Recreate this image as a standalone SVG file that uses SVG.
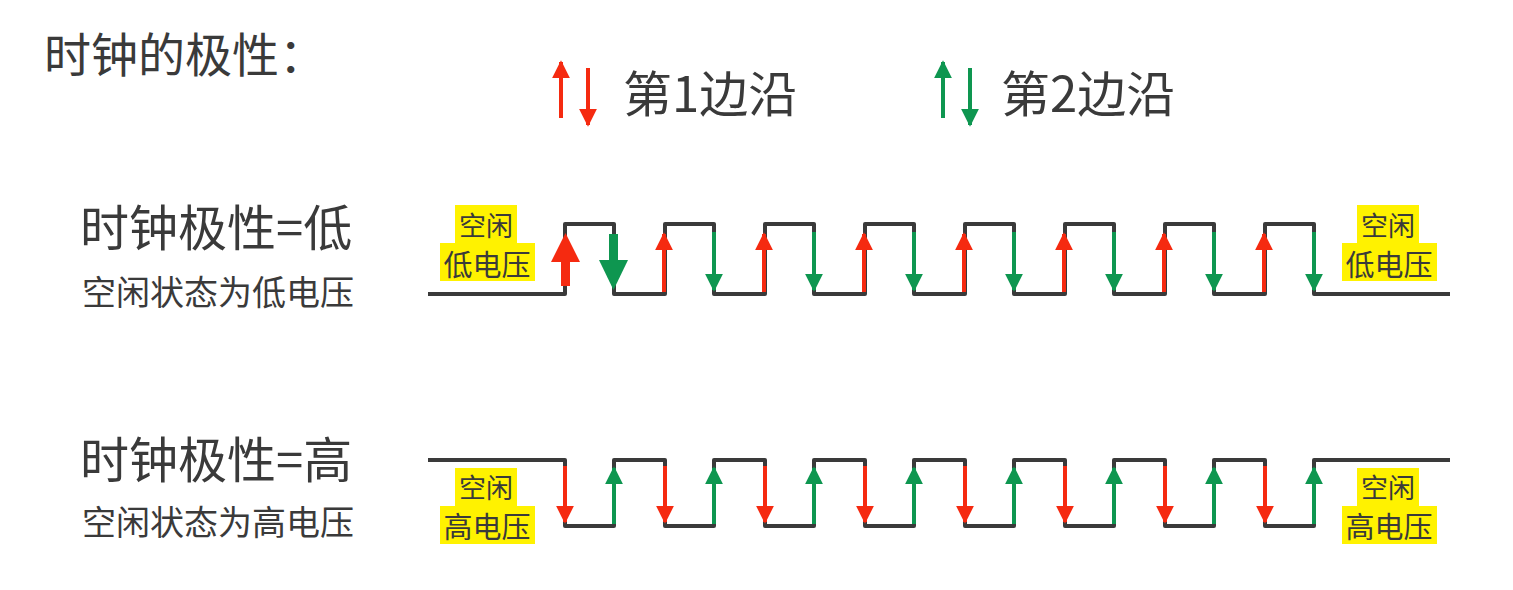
<svg xmlns="http://www.w3.org/2000/svg" width="1513" height="590" viewBox="0 0 1513 590">
<defs>
<style>
text{font-family:"Noto Sans CJK SC","Liberation Sans",sans-serif;fill:#3a3a3a}
.w{fill:none;stroke:#3a3a3a;stroke-width:4;stroke-linejoin:round}
.r{stroke:#f52a10;stroke-width:4}
.g{stroke:#0e9650;stroke-width:4}
.hl{fill:#fff200}
</style>
<marker id="mr" viewBox="0 0 10 10" refX="9" refY="5" markerWidth="4.5" markerHeight="4.5" markerUnits="strokeWidth" orient="auto"><path d="M0,0 L10,5 L0,10Z" fill="#f52a10"/></marker>
<marker id="mg" viewBox="0 0 10 10" refX="9" refY="5" markerWidth="4.5" markerHeight="4.5" markerUnits="strokeWidth" orient="auto"><path d="M0,0 L10,5 L0,10Z" fill="#0e9650"/></marker>
</defs>
<rect width="1513" height="590" fill="#fff"/>
<text x="44" y="72" font-size="47">时钟的极性：</text>
<g id="legend">
<line class="r" x1="561" y1="118" x2="561" y2="62" marker-end="url(#mr)"/>
<line class="r" x1="588" y1="68" x2="588" y2="125" marker-end="url(#mr)"/>
<text x="623" y="112" font-size="49">第1边沿</text>
<line class="g" x1="943" y1="118" x2="943" y2="62" marker-end="url(#mg)"/>
<line class="g" x1="970" y1="68" x2="970" y2="125" marker-end="url(#mg)"/>
<text x="1001" y="112" font-size="49">第2边沿</text>
</g>
<g id="label-low">
<text x="80" y="246" font-size="49">时钟极性=低</text>
<text x="82" y="305" font-size="34">空闲状态为低电压</text>
</g>
<g id="label-high">
<text x="80" y="478" font-size="49">时钟极性=高</text>
<text x="82" y="535" font-size="34">空闲状态为高电压</text>
</g>
<g id="wave-low">
<path class="w" d="M428,294 H565 V224 H614 V294 H665 V224 H714 V294 H765 V224 H814 V294 H865 V224 H914 V294 H965 V224 H1014 V294 H1065 V224 H1114 V294 H1165 V224 H1214 V294 H1265 V224 H1314 V294 H1450"/>
</g>
<g id="wave-high">
<path class="w" d="M428,460 H565 V526 H614 V460 H665 V526 H714 V460 H765 V526 H814 V460 H865 V526 H914 V460 H965 V526 H1014 V460 H1065 V526 H1114 V460 H1165 V526 H1214 V460 H1265 V526 H1314 V460 H1450"/>
</g>
<g id="connectors">
<rect x="561" y="260" width="9" height="26" fill="#f52a10"/>
<path d="M551,262 L565.5,233 L580,262Z" fill="#f52a10"/>
<rect x="609" y="234" width="9" height="28" fill="#0e9650"/>
<path d="M599,260 L613.5,290 L628,260Z" fill="#0e9650"/>
<g id="up-red">
<line class="r" x1="664" y1="292" x2="664" y2="234" marker-end="url(#mr)"/>
<line class="r" x1="764" y1="292" x2="764" y2="234" marker-end="url(#mr)"/>
<line class="r" x1="864" y1="292" x2="864" y2="234" marker-end="url(#mr)"/>
<line class="r" x1="964" y1="292" x2="964" y2="234" marker-end="url(#mr)"/>
<line class="r" x1="1064" y1="292" x2="1064" y2="234" marker-end="url(#mr)"/>
<line class="r" x1="1164" y1="292" x2="1164" y2="234" marker-end="url(#mr)"/>
<line class="r" x1="1264" y1="292" x2="1264" y2="234" marker-end="url(#mr)"/>
</g>
<g id="down-green">
<line class="g" x1="714" y1="232" x2="714" y2="290" marker-end="url(#mg)"/>
<line class="g" x1="814" y1="232" x2="814" y2="290" marker-end="url(#mg)"/>
<line class="g" x1="914" y1="232" x2="914" y2="290" marker-end="url(#mg)"/>
<line class="g" x1="1014" y1="232" x2="1014" y2="290" marker-end="url(#mg)"/>
<line class="g" x1="1114" y1="232" x2="1114" y2="290" marker-end="url(#mg)"/>
<line class="g" x1="1214" y1="232" x2="1214" y2="290" marker-end="url(#mg)"/>
<line class="g" x1="1314" y1="232" x2="1314" y2="290" marker-end="url(#mg)"/>
</g>
<g id="down-red">
<line class="r" x1="565" y1="466" x2="565" y2="522" marker-end="url(#mr)"/>
<line class="r" x1="665" y1="466" x2="665" y2="522" marker-end="url(#mr)"/>
<line class="r" x1="765" y1="466" x2="765" y2="522" marker-end="url(#mr)"/>
<line class="r" x1="865" y1="466" x2="865" y2="522" marker-end="url(#mr)"/>
<line class="r" x1="965" y1="466" x2="965" y2="522" marker-end="url(#mr)"/>
<line class="r" x1="1065" y1="466" x2="1065" y2="522" marker-end="url(#mr)"/>
<line class="r" x1="1165" y1="466" x2="1165" y2="522" marker-end="url(#mr)"/>
<line class="r" x1="1265" y1="466" x2="1265" y2="522" marker-end="url(#mr)"/>
</g>
<g id="up-green">
<line class="g" x1="614" y1="524" x2="614" y2="468" marker-end="url(#mg)"/>
<line class="g" x1="714" y1="524" x2="714" y2="468" marker-end="url(#mg)"/>
<line class="g" x1="814" y1="524" x2="814" y2="468" marker-end="url(#mg)"/>
<line class="g" x1="914" y1="524" x2="914" y2="468" marker-end="url(#mg)"/>
<line class="g" x1="1014" y1="524" x2="1014" y2="468" marker-end="url(#mg)"/>
<line class="g" x1="1114" y1="524" x2="1114" y2="468" marker-end="url(#mg)"/>
<line class="g" x1="1214" y1="524" x2="1214" y2="468" marker-end="url(#mg)"/>
<line class="g" x1="1314" y1="524" x2="1314" y2="468" marker-end="url(#mg)"/>
</g>
</g>
<g id="idle-low-left">
<rect class="hl" x="455" y="205" width="62" height="38"/><rect class="hl" x="440" y="243" width="95" height="38"/>
<text x="486" y="236" font-size="27" text-anchor="middle">空闲</text>
<text x="487" y="276" font-size="29" text-anchor="middle">低电压</text>
</g>
<g id="idle-low-right">
<rect class="hl" x="1357" y="205" width="62" height="38"/><rect class="hl" x="1342" y="243" width="95" height="38"/>
<text x="1388" y="236" font-size="27" text-anchor="middle">空闲</text>
<text x="1389" y="276" font-size="29" text-anchor="middle">低电压</text>
</g>
<g id="idle-high-left">
<rect class="hl" x="455" y="468" width="62" height="38"/><rect class="hl" x="440" y="506" width="95" height="38"/>
<text x="486" y="498" font-size="27" text-anchor="middle">空闲</text>
<text x="487" y="538" font-size="29" text-anchor="middle">高电压</text>
</g>
<g id="idle-high-right">
<rect class="hl" x="1357" y="468" width="62" height="38"/><rect class="hl" x="1342" y="506" width="95" height="38"/>
<text x="1388" y="498" font-size="27" text-anchor="middle">空闲</text>
<text x="1389" y="538" font-size="29" text-anchor="middle">高电压</text>
</g>
</svg>
